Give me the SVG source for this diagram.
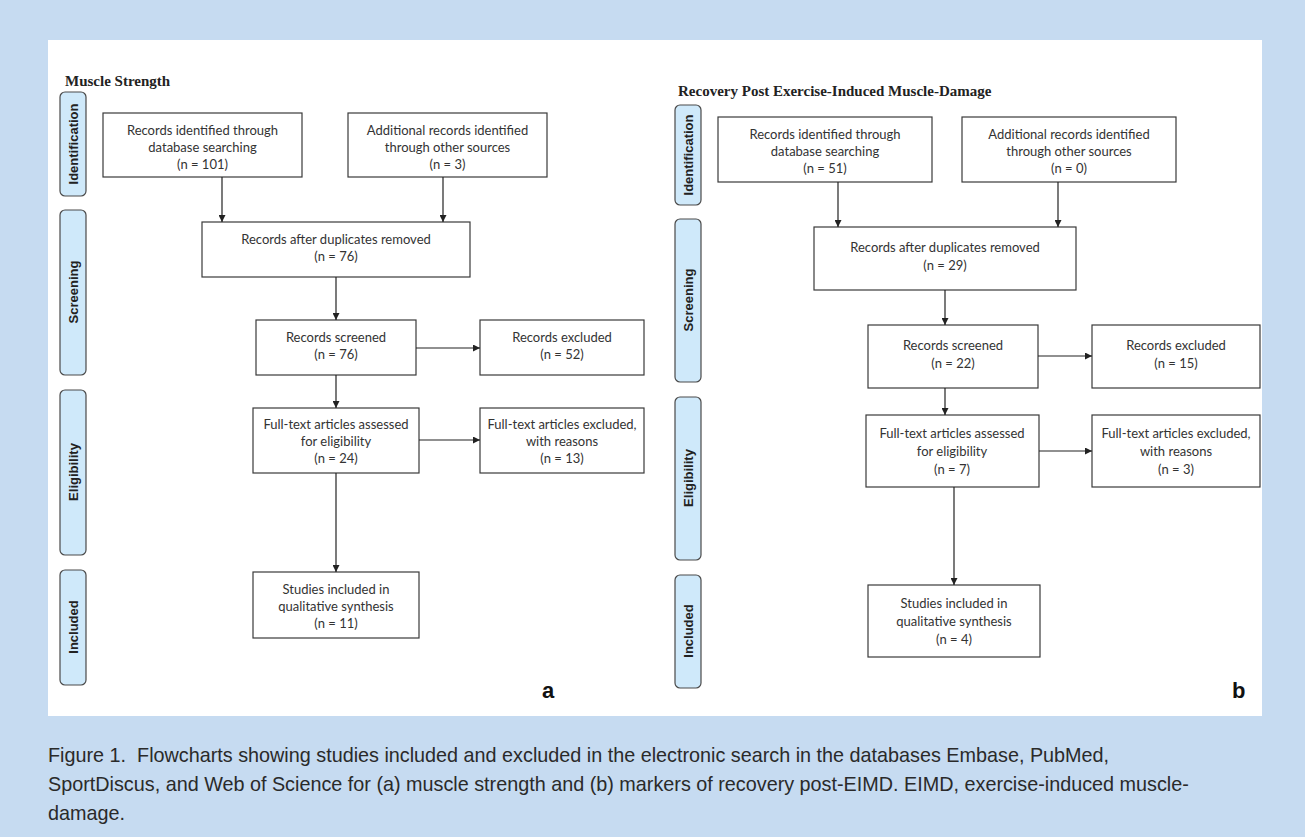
<svg xmlns="http://www.w3.org/2000/svg" width="1305" height="837" viewBox="0 0 1305 837">
<defs>
<style>
.bg{fill:#c6dbf1}
.panel{fill:#ffffff}
.box{fill:#ffffff;stroke:#3a3a3a;stroke-width:1.2}
.bar{fill:#cfe9fa;stroke:#4a4a4a;stroke-width:1.2}
.bt{font-family:Lato,"Open Sans",sans-serif;font-size:13px;fill:#333;text-anchor:middle}
.lab{font-family:"Liberation Sans",Arial,sans-serif;font-size:13px;font-weight:bold;fill:#222;text-anchor:middle}
.title{font-family:"Liberation Serif","Times New Roman",serif;font-size:15px;font-weight:bold;fill:#222}
.tag{font-family:"Liberation Sans",Arial,sans-serif;font-size:22px;font-weight:bold;fill:#111}
.cap{font-family:"Liberation Sans",Arial,sans-serif;font-size:19.8px;fill:#2a2a2a}
.conn line{stroke:#222;stroke-width:1.2;fill:none}
</style>
<marker id="ah" viewBox="0 0 10 10" refX="10" refY="5" markerWidth="7" markerHeight="7" markerUnits="userSpaceOnUse" orient="auto"><path d="M0,0 L10,5 L0,10 Z" fill="#222"/></marker>
</defs>
<rect class="bg" x="0" y="0" width="1305" height="837"/>
<rect class="panel" x="48" y="40" width="1214" height="676"/>

<!-- Left panel -->
<text class="title" x="65" y="86">Muscle Strength</text>
<g id="L-bar-ident"><rect class="bar" x="60" y="92" width="26" height="104" rx="5"/><text class="lab" transform="translate(78,144) rotate(-90)">Identification</text></g>
<g id="L-bar-screen"><rect class="bar" x="60" y="210" width="26" height="165" rx="5"/><text class="lab" transform="translate(78,292) rotate(-90)">Screening</text></g>
<g id="L-bar-elig"><rect class="bar" x="60" y="390" width="26" height="165" rx="5"/><text class="lab" transform="translate(78,472) rotate(-90)">Eligibility</text></g>
<g id="L-bar-incl"><rect class="bar" x="60" y="570" width="26" height="115" rx="5"/><text class="lab" transform="translate(78,627) rotate(-90)">Included</text></g>

<g id="L-A"><rect class="box" x="103" y="113" width="199" height="64"/><text class="bt" x="202.5" y="135">Records identified through</text><text class="bt" x="202.5" y="152">database searching</text><text class="bt" x="202.5" y="169">(n = 101)</text></g>
<g id="L-B"><rect class="box" x="348" y="113" width="199" height="64"/><text class="bt" x="447.5" y="135">Additional records identified</text><text class="bt" x="447.5" y="152">through other sources</text><text class="bt" x="447.5" y="169">(n = 3)</text></g>
<g id="L-C"><rect class="box" x="202" y="222" width="268" height="55"/><text class="bt" x="336" y="244">Records after duplicates removed</text><text class="bt" x="336" y="261">(n = 76)</text></g>
<g id="L-D"><rect class="box" x="256" y="320" width="160" height="55"/><text class="bt" x="336" y="342">Records screened</text><text class="bt" x="336" y="359">(n = 76)</text></g>
<g id="L-E"><rect class="box" x="480" y="320" width="164" height="55"/><text class="bt" x="562" y="342">Records excluded</text><text class="bt" x="562" y="359">(n = 52)</text></g>
<g id="L-F"><rect class="box" x="253" y="408" width="166" height="65"/><text class="bt" x="336" y="429">Full-text articles assessed</text><text class="bt" x="336" y="446">for eligibility</text><text class="bt" x="336" y="463">(n = 24)</text></g>
<g id="L-G"><rect class="box" x="480" y="408" width="164" height="65"/><text class="bt" x="562" y="429">Full-text articles excluded,</text><text class="bt" x="562" y="446">with reasons</text><text class="bt" x="562" y="463">(n = 13)</text></g>
<g id="L-H"><rect class="box" x="253" y="572" width="166" height="66"/><text class="bt" x="336" y="594">Studies included in</text><text class="bt" x="336" y="611">qualitative synthesis</text><text class="bt" x="336" y="628">(n = 11)</text></g>
<text class="tag" x="542" y="698">a</text>

<!-- Right panel -->
<text class="title" x="678" y="96">Recovery Post Exercise-Induced Muscle-Damage</text>
<g id="R-bar-ident"><rect class="bar" x="675" y="105" width="26" height="100" rx="5"/><text class="lab" transform="translate(693,155) rotate(-90)">Identification</text></g>
<g id="R-bar-screen"><rect class="bar" x="675" y="219" width="26" height="163" rx="5"/><text class="lab" transform="translate(693,300) rotate(-90)">Screening</text></g>
<g id="R-bar-elig"><rect class="bar" x="675" y="397" width="26" height="163" rx="5"/><text class="lab" transform="translate(693,478) rotate(-90)">Eligibility</text></g>
<g id="R-bar-incl"><rect class="bar" x="675" y="575" width="26" height="113" rx="5"/><text class="lab" transform="translate(693,631) rotate(-90)">Included</text></g>

<g id="R-A"><rect class="box" x="718" y="117" width="214" height="65"/><text class="bt" x="825" y="139">Records identified through</text><text class="bt" x="825" y="156">database searching</text><text class="bt" x="825" y="173">(n = 51)</text></g>
<g id="R-B"><rect class="box" x="962" y="117" width="214" height="65"/><text class="bt" x="1069" y="139">Additional records identified</text><text class="bt" x="1069" y="156">through other sources</text><text class="bt" x="1069" y="173">(n = 0)</text></g>
<g id="R-C"><rect class="box" x="814" y="227" width="262" height="63"/><text class="bt" x="945" y="252">Records after duplicates removed</text><text class="bt" x="945" y="270">(n = 29)</text></g>
<g id="R-D"><rect class="box" x="868" y="325" width="170" height="63"/><text class="bt" x="953" y="350">Records screened</text><text class="bt" x="953" y="368">(n = 22)</text></g>
<g id="R-E"><rect class="box" x="1092" y="325" width="168" height="63"/><text class="bt" x="1176" y="350">Records excluded</text><text class="bt" x="1176" y="368">(n = 15)</text></g>
<g id="R-F"><rect class="box" x="866" y="415" width="173" height="72"/><text class="bt" x="952" y="438">Full-text articles assessed</text><text class="bt" x="952" y="456">for eligibility</text><text class="bt" x="952" y="474">(n = 7)</text></g>
<g id="R-G"><rect class="box" x="1092" y="415" width="168" height="72"/><text class="bt" x="1176" y="438">Full-text articles excluded,</text><text class="bt" x="1176" y="456">with reasons</text><text class="bt" x="1176" y="474">(n = 3)</text></g>
<g id="R-H"><rect class="box" x="868" y="585" width="172" height="72"/><text class="bt" x="954" y="608">Studies included in</text><text class="bt" x="954" y="626">qualitative synthesis</text><text class="bt" x="954" y="644">(n = 4)</text></g>
<text class="tag" x="1232" y="698">b</text>

<g id="connectors" class="conn">
<line x1="222" y1="177" x2="222" y2="222" marker-end="url(#ah)"/>
<line x1="443" y1="177" x2="443" y2="222" marker-end="url(#ah)"/>
<line x1="336" y1="277" x2="336" y2="320" marker-end="url(#ah)"/>
<line x1="416" y1="348" x2="480" y2="348" marker-end="url(#ah)"/>
<line x1="336" y1="375" x2="336" y2="408" marker-end="url(#ah)"/>
<line x1="419" y1="440" x2="480" y2="440" marker-end="url(#ah)"/>
<line x1="336" y1="473" x2="336" y2="572" marker-end="url(#ah)"/>
<line x1="838" y1="182" x2="838" y2="227" marker-end="url(#ah)"/>
<line x1="1058" y1="182" x2="1058" y2="227" marker-end="url(#ah)"/>
<line x1="945" y1="290" x2="945" y2="325" marker-end="url(#ah)"/>
<line x1="1038" y1="356" x2="1092" y2="356" marker-end="url(#ah)"/>
<line x1="945" y1="388" x2="945" y2="415" marker-end="url(#ah)"/>
<line x1="1039" y1="451" x2="1092" y2="451" marker-end="url(#ah)"/>
<line x1="954" y1="487" x2="954" y2="585" marker-end="url(#ah)"/>
</g>

<g id="caption">
<text class="cap" x="48" y="762">Figure 1.&#160; Flowcharts showing studies included and excluded in the electronic search in the databases Embase, PubMed,</text>
<text class="cap" x="48" y="791">SportDiscus, and Web of Science for (a) muscle strength and (b) markers of recovery post-EIMD. EIMD, exercise-induced muscle-</text>
<text class="cap" x="48" y="820">damage.</text>
</g>
</svg>
